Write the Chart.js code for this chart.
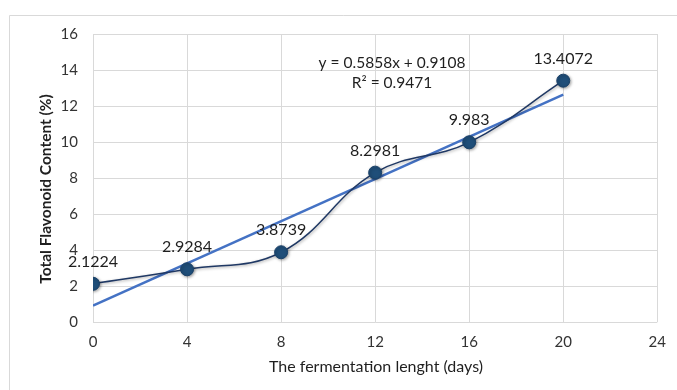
<!DOCTYPE html>
<html><head><meta charset="utf-8">
<script src="https://cdn.jsdelivr.net/npm/chart.js@4/dist/chart.umd.min.js"></script>
<style>html,body{margin:0;padding:0;background:#fff}#wrap{width:677px;height:390px;position:relative}</style>
</head><body><div id="wrap"><canvas id="c" width="677" height="390"></canvas></div>
<script>
const days = [0, 4, 8, 12, 16, 20];
const flavonoid = [2.1224, 2.9284, 3.8739, 8.2981, 9.983, 13.4072];
const pointLabels = ['2.1224', '2.9284', '3.8739', '8.2981', '9.983', '13.4072'];
const trendDays = [0, 20];
const trendValues = [0.9108, 12.6268];
const equationText = 'y = 0.5858x + 0.9108';
const r2Text = 'R\u00B2 = 0.9471';
const xTitle = 'The fermentation lenght (days)';
const yTitle = 'Total Flavonoid Content (%)';
const xMin = 0, xMax = 24, xStep = 4;
const yMin = 0, yMax = 16, yStep = 2;

const FONT = 'Lato, "Open Sans", sans-serif';

const mainData = days.map((d, i) => ({x: d, y: flavonoid[i]}));
const trendData = trendDays.map((d, i) => ({x: d, y: trendValues[i]}));

const decor = {
  id: 'decor',
  beforeDraw(chart) {
    const ctx = chart.ctx;
    ctx.save();
    ctx.fillStyle = '#fff';
    ctx.fillRect(0, 0, chart.width, chart.height);
    ctx.strokeStyle = '#d9d9d9';
    ctx.lineWidth = 1;
    ctx.beginPath();
    ctx.moveTo(9.5, 400); ctx.lineTo(9.5, 15.5); ctx.lineTo(700, 15.5);
    ctx.stroke();
    ctx.restore();
  },
  afterDraw(chart) {
    const ctx = chart.ctx;
    const xs = chart.scales.x, ys = chart.scales.y;
    ctx.save();
    ctx.fillStyle = '#1f1f1f';
    ctx.font = '16px ' + FONT;
    ctx.textAlign = 'center';
    ctx.textBaseline = 'middle';
    days.forEach((d, i) => {
      const px = xs.getPixelForValue(d), py = ys.getPixelForValue(flavonoid[i]);
      ctx.fillText(pointLabels[i], px, py - 22);
    });
    ctx.font = '15.5px ' + FONT;
    ctx.fillText(equationText, 392, 63);
    ctx.fillText(r2Text, 392, 83);
    ctx.font = '16px ' + FONT;
    ctx.fillText(xTitle, 376, 367);
    ctx.translate(46, 189);
    ctx.rotate(-Math.PI / 2);
    ctx.font = 'bold 15.5px ' + FONT;
    ctx.fillText(yTitle, 0, 0);
    ctx.restore();
  },
  beforeDatasetDraw(chart, args) {
    if (args.index === 0) {
      const ctx = chart.ctx;
      ctx.save();
      ctx.shadowColor = 'rgba(0,0,0,0.35)';
      ctx.shadowBlur = 3;
      ctx.shadowOffsetX = 1;
      ctx.shadowOffsetY = 1;
    }
  },
  afterDatasetDraw(chart, args) {
    if (args.index === 0) chart.ctx.restore();
  }
};

new Chart(document.getElementById('c'), {
  type: 'scatter',
  data: {
    datasets: [
      {
        label: 'Flavonoid',
        data: mainData,
        showLine: true,
        tension: 0.4,
        borderColor: '#1f3864',
        borderWidth: 1.5,
        pointRadius: 6.5,
        pointBackgroundColor: '#1f4e79',
        pointBorderColor: '#1b426a',
        pointBorderWidth: 1,
        order: 0
      },
      {
        label: 'Linear trend',
        data: trendData,
        showLine: true,
        borderColor: '#4472c4',
        borderWidth: 2.5,
        pointRadius: 0,
        order: 1
      }
    ]
  },
  options: {
    responsive: false,
    animation: false,
    devicePixelRatio: 1,
    layout: {padding: {left: 0, top: 34, right: 17, bottom: 0}},
    plugins: {legend: {display: false}, tooltip: {enabled: false}},
    scales: {
      x: {
        type: 'linear', min: xMin, max: xMax,
        ticks: {stepSize: xStep, padding: 11, color: '#333333', font: {family: FONT, size: 15}},
        grid: {color: '#d9d9d9', lineWidth: 1, drawTicks: false},
        border: {display: false},
        afterFit(s) { s.height = 68; }
      },
      y: {
        type: 'linear', min: yMin, max: yMax,
        ticks: {stepSize: yStep, padding: 15, color: '#333333', font: {family: FONT, size: 15}},
        grid: {color: '#d9d9d9', lineWidth: 1, drawTicks: false},
        border: {display: false},
        afterFit(s) { s.width = 93; }
      }
    }
  },
  plugins: [decor]
});
</script></body></html>
